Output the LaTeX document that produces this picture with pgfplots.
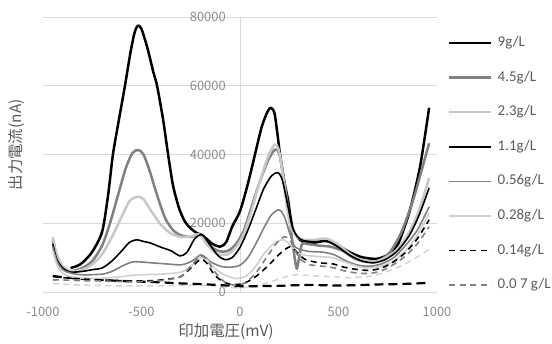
\documentclass[border=0pt]{standalone}
\usepackage{pgfplots}
\pgfplotsset{compat=1.18}
\usepackage{fontspec}
\setmainfont{Noto Sans CJK JP}
\newfontfamily\legfont{Carlito}
\definecolor{tickgray}{RGB}{140,140,140}
\definecolor{labgray}{RGB}{89,89,89}
\definecolor{gridgray}{RGB}{217,217,217}
\definecolor{midgray}{RGB}{128,128,128}
\definecolor{ltgray}{RGB}{200,200,200}
\definecolor{ltgraythin}{RGB}{208,208,208}
\definecolor{ltdash}{RGB}{210,210,210}
\begin{document}
\begin{tikzpicture}[x=1bp,y=1bp]
\useasboundingbox (-43,-51) rectangle (509,292);
\begin{axis}[at={(0,0)}, anchor=south west, scale only axis, width=394bp, height=275bp,
  xmin=-1000, xmax=1000, ymin=0, ymax=80000,
  axis x line=bottom, axis y line=center, axis line style={-},
  x axis line style={draw=none}, y axis line style={draw=gridgray, line width=0.8bp},
  hide obscured x ticks=false, hide obscured y ticks=false,
  xtick={-1000,-500,0,500,1000}, xticklabels={-1000,-500,0,500,1000},
  ytick={0,20000,40000,60000,80000}, yticklabels={0,20000,40000,60000,80000},
  scaled y ticks=false,
  ymajorgrids, grid style={draw=gridgray, line width=0.8bp},
  major tick length=0pt,
  tick label style={font=\fontsize{13}{13}\selectfont, text=tickgray, inner sep=0pt},
  xticklabel style={anchor=center, yshift=-20bp},
  yticklabel style={anchor=east, xshift=-14bp},
  every axis x label/.style={at={(axis description cs:0.4645,-0.1455)}, anchor=center},
  every axis y label/.style={at={(axis description cs:-0.066,0.535)}, rotate=90, anchor=center},
  label style={font=\fontsize{15.5}{15.5}\selectfont, text=labgray},
  xlabel={印加電圧(mV)}, ylabel={出力電流(nA)},
  legend image code/.code={\draw[#1] (0bp,0bp) -- (42bp,0bp);},
  legend cell align=left,
  legend style={at={(axis description cs:1.028,0.93)}, anchor=north west, draw=none, fill=none,
    inner sep=0pt, row sep=21.6bp, column sep=5bp,
    font=\legfont\fontsize{15}{15}\selectfont, text=labgray,
    nodes={inner sep=0pt, text height=10bp, text depth=3bp}},
  every axis plot/.append style={smooth, tension=0.45, line join=round},
]
% extra series without legend entry
\addplot[ltdash, line width=1.5bp, dash pattern=on 6bp off 4.5bp, forget plot] coordinates {
(-950,2500) (-800,2000) (-600,1800) (-400,1800) (-200,2000) (-100,1600) (0,1200) (100,2000) (200,3800) (269,5000) (350,4800) (450,4500) (550,4200) (650,4500) (750,6000) (850,8500) (960,12300)};
\addplot[black, line width=2.2bp, dash pattern=on 9bp off 5bp, forget plot] coordinates {
(-950,4700) (-900,4300) (-800,3800) (-700,3500) (-600,3200) (-500,3000) (-400,2800) (-300,2500) (-200,2300) (-100,2000) (0,1700) (100,1700) (200,1800) (300,2000) (400,2000) (500,1900) (600,2000) (700,2200) (800,2300) (900,2500) (960,2700)};
% 9 g/L
\addplot[black, line width=2.5bp] coordinates {
(-860,7000) (-830,7500) (-800,8500) (-750,11700) (-700,17500) (-670,28000) (-645,40000) (-615,50000) (-584,60000) (-555,70000) (-535,75500) (-518,77500) (-500,76500) (-470,71000) (-440,64000) (-421,60000) (-390,50000) (-365,40000) (-340,31000) (-310,24500) (-280,20500) (-250,18500) (-215,17000) (-200,16800) (-170,15500) (-140,14000) (-100,13200) (-70,14500) (-40,19000) (0,23500) (40,31500) (76,40000) (110,48000) (140,52500) (157,53600) (175,52000) (190,46000) (203,40000) (225,32000) (244,26800) (256,22000) (269,18100) (290,16000) (320,14600) (370,14300) (420,14800) (457,14600) (508,13200) (560,11500) (609,10300) (650,9800) (700,9700) (750,10800) (790,13000) (812,15200) (863,23900) (914,36500) (960,53600)};
\addlegendentry{9g/L}
% 4.5 g/L
\addplot[midgray, line width=2.5bp] coordinates {
(-950,15000) (-930,10000) (-900,7000) (-860,6000) (-800,7000) (-750,9000) (-700,13500) (-660,20000) (-620,28000) (-580,36000) (-545,40500) (-515,41300) (-490,40000) (-460,35500) (-420,28000) (-380,21500) (-340,18000) (-300,16500) (-250,16000) (-215,16800) (-200,16700) (-170,14500) (-130,12500) (-100,11800) (-60,12000) (-20,14000) (20,18000) (60,25000) (100,32000) (140,38000) (170,41000) (188,41400) (205,39000) (225,32000) (245,24000) (265,15000) (280,9000) (289,6800) (300,10000) (315,14000) (340,14000) (400,13500) (457,13200) (520,12000) (580,9800) (640,8800) (700,9000) (760,11500) (820,17500) (880,27000) (920,35000) (960,43300)};
\addlegendentry{4.5g/L}
% 2.3 g/L
\addplot[ltgray, line width=2.5bp] coordinates {
(-950,16000) (-930,11000) (-900,7500) (-860,6000) (-800,6500) (-750,8000) (-700,11000) (-650,16000) (-600,22000) (-560,26500) (-520,27700) (-490,27000) (-450,23500) (-400,19500) (-350,17000) (-300,16000) (-250,16200) (-215,16800) (-200,16500) (-170,14000) (-130,11500) (-100,10800) (-60,11000) (-20,13000) (20,17000) (60,24000) (100,32000) (140,39000) (170,42500) (185,42800) (200,40500) (220,33000) (240,24000) (260,18500) (290,16000) (320,15200) (380,15200) (440,15500) (500,13800) (560,11000) (620,9200) (680,8800) (740,10000) (800,12500) (860,17500) (910,24000) (960,33200)};
\addlegendentry{2.3g/L}
% 1.1 g/L
\addplot[black, line width=1.6bp] coordinates {
(-950,14000) (-930,9500) (-900,7000) (-860,5800) (-800,6000) (-750,6500) (-700,7000) (-650,9000) (-600,12000) (-560,14500) (-523,15200) (-490,14700) (-457,14300) (-400,13000) (-350,12000) (-305,10500) (-270,11500) (-230,15500) (-200,16700) (-180,16000) (-150,13500) (-110,10500) (-76,9400) (-40,10000) (0,13000) (40,18000) (80,24000) (120,30000) (160,33800) (193,34700) (215,32500) (244,24800) (265,19000) (290,16200) (320,15000) (380,14600) (440,14800) (500,13000) (560,10600) (620,9000) (680,8500) (740,9500) (800,12000) (860,16500) (910,22500) (960,30300)};
\addlegendentry{1.1g/L}
% 0.56 g/L
\addplot[midgray, line width=1.6bp] coordinates {
(-950,13000) (-930,9000) (-900,6500) (-860,5500) (-800,5000) (-700,5200) (-650,6000) (-600,7500) (-550,8700) (-520,8800) (-450,8500) (-380,8200) (-300,7900) (-250,8800) (-220,10000) (-200,10800) (-180,10300) (-150,8800) (-100,7500) (-50,7200) (0,7800) (40,10000) (80,14000) (120,18500) (160,22500) (198,23900) (225,22000) (250,17500) (275,13500) (300,12500) (350,11800) (420,11600) (480,10800) (540,9000) (600,7800) (660,7500) (720,8200) (780,10000) (840,13500) (900,18000) (960,24800)};
\addlegendentry{0.56g/L}
% 0.28 g/L
\addplot[ltgraythin, line width=1.6bp] coordinates {
(-950,12000) (-930,8000) (-900,5500) (-860,4500) (-800,4000) (-700,4000) (-600,4500) (-520,5000) (-400,5200) (-300,5800) (-250,7500) (-200,10000) (-170,9500) (-130,7000) (-80,5000) (-30,4000) (0,4000) (40,5000) (80,7500) (120,11000) (170,14000) (218,15200) (250,14000) (280,12000) (320,10800) (400,10300) (470,10000) (530,8800) (600,7400) (660,7000) (720,7500) (780,9000) (840,12000) (900,16500) (960,23000)};
\addlegendentry{0.28g/L}
% 0.14 g/L
\addplot[black, line width=1.6bp, dash pattern=on 6bp off 4.5bp] coordinates {
(-950,4500) (-900,4200) (-850,4000) (-800,3800) (-700,3500) (-600,3300) (-500,3200) (-400,3500) (-300,4500) (-250,7000) (-200,9500) (-170,8500) (-130,5000) (-80,2800) (-30,2200) (20,2500) (80,4500) (140,7500) (200,11000) (254,13200) (290,11500) (330,9500) (400,8500) (470,8200) (530,7200) (600,6500) (660,6300) (720,7000) (780,8800) (840,11500) (900,15500) (960,21000)};
\addlegendentry{0.14g/L}
% 0.07 g/L
\addplot[midgray, line width=1.6bp, dash pattern=on 6bp off 4.5bp] coordinates {
(-950,3500) (-900,3500) (-800,3300) (-700,3200) (-600,3000) (-500,3000) (-400,3300) (-300,4500) (-250,7500) (-200,10500) (-170,9500) (-130,6000) (-80,3000) (-30,2000) (20,2500) (80,5500) (140,10500) (190,14500) (228,16100) (260,14500) (300,10000) (350,8000) (420,7500) (480,7000) (540,6000) (600,5500) (660,5400) (720,6200) (780,8000) (840,10500) (900,14000) (960,19000)};
\addlegendentry{0.0 7 g/L}
\end{axis}
\end{tikzpicture}
\end{document}
